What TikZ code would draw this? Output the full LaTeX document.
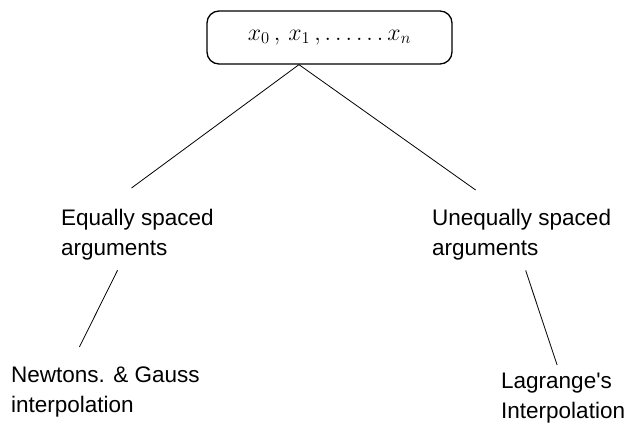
\documentclass[tikz,border=0pt]{standalone}
\usepackage{fontspec}
\setmainfont{Liberation Sans}
\usetikzlibrary{calc}

\begin{document}
\begin{tikzpicture}[
  x=1pt, y=-1pt,
  topbox/.style={rectangle, rounded corners=12pt, draw, line width=1.3pt,
    minimum width=245pt, minimum height=53pt, inner sep=0pt,
    font=\fontsize{22}{26}\selectfont},
  lbl/.style={anchor=north west, inner sep=0pt, align=left,
    font=\fontsize{22.5}{30}\selectfont},
  link/.style={draw, line width=0.8pt},
]
  \useasboundingbox (0,0) rectangle (627,430);
  \node[topbox] (data) at (329.5,37.5) {\scalebox{1.15}{$x_0\,,\,x_1\,,\ldots\ldots x_n$}\hspace{34pt}};
  \node[lbl] (equal) at (61,209) {Equally spaced\\arguments};
  \node[lbl] (unequal) at (432,209) {Unequally spaced\\arguments};
  \node[lbl] (newton) at (11,367) {Newtons. \& Gauss\\interpolation};
  \node[lbl] (lagrange) at (501,373) {Lagrange\textquotesingle s\\Interpolation};
  \coordinate (fork) at ($(data.south west)!0.376!(data.south east)$);
  % branches
  \draw[link] (fork) -- ([shift={(-6,-21)}]equal.north);
  \draw[link] (fork) -- ([shift={(-46,-19)}]unequal.north);
  \draw[link] ([shift={(-20,10)}]equal.south) -- ([shift={(-26,-20)}]newton.north);
  \draw[link] ([shift={(4,10)}]unequal.south) -- ([shift={(-6,-8)}]lagrange.north);
\end{tikzpicture}
\end{document}
